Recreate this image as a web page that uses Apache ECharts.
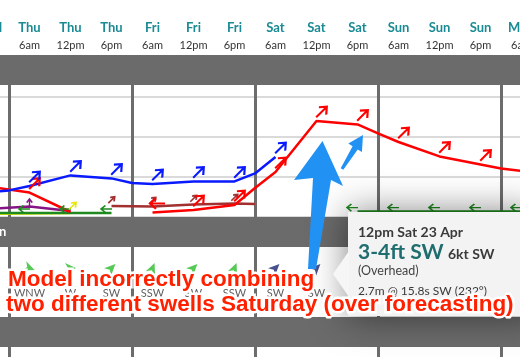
<!DOCTYPE html>
<html><head><meta charset="utf-8">
<script src="https://cdn.jsdelivr.net/npm/echarts@6/dist/echarts.min.js"></script>
<style>html,body{margin:0;padding:0;background:#fff}#c{width:520px;height:357px}</style>
</head><body><div id="c"></div>
<script>
// ---- data (column slots: integer = 6-hourly column centre, .5 = midnight between days) ----
const timeLabels = ['Wed 6pm','Thu 6am','Thu 12pm','Thu 6pm','Fri 6am','Fri 12pm','Fri 6pm','Sat 6am','Sat 12pm','Sat 6pm','Sun 6am','Sun 12pm','Sun 6pm','Mon 6am'];
const blueSwell   = [[0,1.23],[0.5,1.33],[1,1.55],[2,2.08],[3,1.93],[3.5,1.7],[4,1.65],[5,1.78],[6,1.78],[6.5,2.18],[7,3.0]];
const redSwell    = [[0,1.52],[1,1.22],[2,0.25],[3,'-'],[4,0.22],[5,0.35],[6,0.6],[6.5,1.45],[7,2.25],[8,4.8],[9,4.63],[9.5,4.18],[10,3.75],[11,3.03],[12,2.63],[12.5,2.43],[13,2.3]];
const brownSwell  = [[3,0.55],[4,0.52],[5,0.62],[6,0.67],[6.5,0.65]];
const purpleSwell = [[0,0.4],[1,0.52],[2,0.3]];
const yellowSwell = [[0,0.15],[1,0.18],[2,0.2]];
const greenSwell  = [[0,0.2],[1,0.2],[2,0.2],[3,0.2],[4,'-'],[9,0.27],[10,0.27],[11,0.27],[12,0.27],[13,0.27]];
// arrow bearings (direction the swell travels towards), per column
const blueDir   = [null,45,45,45,45,45,45,45];
const redDir    = [null,45,null,null,270,45,45,45,45,45,45,45,45,45];
const brownDir  = [null,null,null,45,45,45,45];
const purpleDir = [null,0];
const yellowDir = [null,null,45];
const greenDir  = [null,270,270,270,null,null,null,null,null,270,270,270,270,270];
// wind row
const windLabels = ['', 'WNW','W','SW','SSW','SW','SSW','SW','SW'];
const windTo     = [null, 112, 90, 45, 22, 45, 22, 45, 45];
const windColors = [null,'#2dbb2d','#2dbb2d','#2dbb2d','#2dbb2d','#2dbb2d','#2dbb2d','#1b2470','#1b2470'];

const ARROW = 'path://M8,16L8,1M2,7L8,1L14,7';
const ICON  = 'path://M5,0L10,11L5,8L0,11Z';
const FONT = 'Lato';

function arrowPts(swell, dir){
  return swell.filter(p => Number.isInteger(p[0]) && p[1] !== '-' && dir[p[0]] != null)
    .map(p => ({value:[p[0],p[1]], symbolRotate: -dir[p[0]]}));
}
function lineS(data, color, z){
  return {type:'line', xAxisIndex:1, yAxisIndex:1, data, symbol:'none', showSymbol:false,
    lineStyle:{color, width:2.5}, z, connectNulls:false, silent:true};
}
function arrowS(data, color, size, offset, bw, z){
  return {type:'scatter', xAxisIndex:1, yAxisIndex:1, data, symbol:ARROW, symbolSize:size,
    symbolKeepAspect:true, symbolOffset:offset, silent:true, z,
    itemStyle:{color:'rgba(0,0,0,0)', borderColor:color, borderWidth:bw, opacity:1}};
}
const sepInt = (idx, val) => String(val).endsWith('6am');

const windIcons = [], windTexts = [];
windLabels.forEach((t,i) => {
  if (!t) return;
  windIcons.push({value:[i,0.7], symbolRotate:-windTo[i], itemStyle:{color:windColors[i]}});
  windTexts.push({value:[i,0.34], name:t});
});

const chart = echarts.init(document.getElementById('c'));
const G = {left:-32, right:-22, outerBoundsMode:'none', containLabel:false};
chart.setOption({
  animation:false,
  grid:[
    Object.assign({top:55, bottom:0}, G),
    Object.assign({top:57, height:160}, G),
    Object.assign({top:247, height:70}, G)
  ],
  xAxis:[
    {type:'category', gridIndex:0, position:'top', data:timeLabels, boundaryGap:true,
     axisLine:{show:false},
     axisTick:{show:true, length:37, interval:sepInt, lineStyle:{color:'#6c6c6c', width:3}},
     splitLine:{show:true, interval:sepInt, lineStyle:{color:'#6c6c6c', width:3}},
     axisLabel:{interval:0, margin:1, hideOverlap:false,
       formatter: v => { const s = v.split(' '); return '{d|'+s[0]+'}\n{t|'+s[1]+'}'; },
       rich:{
         d:{fontFamily:FONT, fontWeight:'bold', fontSize:13, color:'#1a8b94', lineHeight:19},
         t:{fontFamily:FONT, fontSize:11, color:'#333', lineHeight:17}
       }}},
    {type:'value', gridIndex:1, min:-0.5, max:13.5, show:false},
    {type:'value', gridIndex:2, min:-0.5, max:13.5, show:false}
  ],
  yAxis:[
    {type:'value', gridIndex:0, show:false},
    {type:'value', gridIndex:1, min:0, max:8, interval:2,
     axisLine:{show:false}, axisTick:{show:false}, axisLabel:{show:false},
     splitLine:{show:true, lineStyle:{color:'#dadada', width:2}}},
    {type:'value', gridIndex:2, min:0, max:1, show:false}
  ],
  series:[
    lineS(yellowSwell, '#e6e600', 2),
    lineS(greenSwell, '#1f8a1f', 3),
    lineS(purpleSwell, '#851585', 3),
    lineS(brownSwell, '#a33030', 3),
    lineS(redSwell, '#ff0000', 4),
    lineS(blueSwell, '#0a1aff', 4),
    arrowS(arrowPts(greenSwell, greenDir), '#1f8a1f', [9,11], [-5,-4], 1.6, 5),
    arrowS(arrowPts(yellowSwell, yellowDir), '#e6e600', [8,10], [2,-7], 1.6, 5),
    arrowS(arrowPts(purpleSwell, purpleDir), '#851585', [7,9], [0,-3], 1.6, 5),
    arrowS(arrowPts(brownSwell, brownDir), '#a33030', [7,9], [0,-6], 1.8, 5),
    arrowS(arrowPts(redSwell, redDir), '#ff0000', [13,15], [5,-9], 2.2, 5),
    arrowS(arrowPts(blueSwell, blueDir), '#0a1aff', [13,15], [5,-9], 2.2, 5),
    {type:'scatter', xAxisIndex:2, yAxisIndex:2, data:windIcons, symbol:ICON, symbolSize:[10,11], silent:true, z:5},
    {type:'scatter', xAxisIndex:2, yAxisIndex:2, data:windTexts, symbolSize:1, silent:true, z:5,
     itemStyle:{color:'rgba(0,0,0,0)'},
     label:{show:true, position:'inside', formatter:'{b}', fontFamily:FONT, fontSize:11, color:'#333'}}
  ],
  graphic:[
    {type:'rect', z:1, shape:{x:0,y:55,width:520,height:30}, style:{fill:'#6b6b6b'}},
    {type:'rect', z:1, shape:{x:0,y:217,width:520,height:30}, style:{fill:'#6b6b6b'}},
    {type:'rect', z:1, shape:{x:0,y:317,width:520,height:30}, style:{fill:'#6b6b6b'}},
    {type:'text', z:1, x:-1, y:232, style:{text:'n', font:'bold 13px '+FONT, fill:'#fff', verticalAlign:'middle'}},
    // tooltip card
    {type:'rect', z:20, shape:{x:348,y:212,width:190,height:104},
     style:{fill:'#f3f3f3', shadowBlur:36, shadowColor:'rgba(0,0,0,0.5)'}},
    {type:'polygon', z:21, shape:{points:[[349,251],[333,274],[349,297]]}, style:{fill:'#f6f6f6'}},
    {type:'text', z:22, x:358, y:232, style:{text:'12pm Sat 23 Apr', font:'bold 14px '+FONT, fill:'#3a3a3a', verticalAlign:'middle'}},
    {type:'text', z:22, x:358, y:252, style:{text:'3-4ft SW', font:'bold 21px '+FONT, fill:'#1f6d6e', verticalAlign:'middle'}},
    {type:'text', z:22, x:448, y:254, style:{text:'6kt SW', font:'bold 14px '+FONT, fill:'#3a3a3a', verticalAlign:'middle'}},
    {type:'text', z:22, x:358, y:271, style:{text:'(Overhead)', font:'12.5px '+FONT, fill:'#444', verticalAlign:'middle'}},
    {type:'text', z:22, x:358, y:291, style:{text:'2.7m @ 15.8s SW (232°)', font:'12px '+FONT, fill:'#3a3a3a', verticalAlign:'middle'}},
    // annotation arrows
    {type:'polygon', z:30, shape:{points:[[322.5,141],[343,186],[331,180],[316,269],[308,269],[313,178],[294,180]]}, style:{fill:'#2192f4'}},
    {type:'polygon', z:30, shape:{points:[[363,135],[361.9,152],[357.7,149.4],[343.3,169.8],[340.7,168.2],[352.6,146.2],[348.3,143.6]]}, style:{fill:'#2192f4'}},
    // annotation text: white outline layer + red fill layer
    {type:'text', z:40, x:8, y:280, style:{text:'Model incorrectly combining', font:'bold 22.5px "Liberation Sans"', fill:'#fff', stroke:'#fff', lineWidth:5, verticalAlign:'middle', shadowBlur:4, shadowColor:'rgba(0,0,0,0.45)', shadowOffsetY:1}},
    {type:'text', z:40, x:6, y:305, style:{text:'two different swells Saturday (over forecasting)', font:'bold 22.5px "Liberation Sans"', fill:'#fff', stroke:'#fff', lineWidth:5, verticalAlign:'middle', shadowBlur:4, shadowColor:'rgba(0,0,0,0.45)', shadowOffsetY:1}},
    {type:'text', z:41, x:8, y:280, style:{text:'Model incorrectly combining', font:'bold 22.5px "Liberation Sans"', fill:'#ff2000', verticalAlign:'middle'}},
    {type:'text', z:41, x:6, y:305, style:{text:'two different swells Saturday (over forecasting)', font:'bold 22.5px "Liberation Sans"', fill:'#ff2000', verticalAlign:'middle'}}
  ]
});
</script></body></html>
